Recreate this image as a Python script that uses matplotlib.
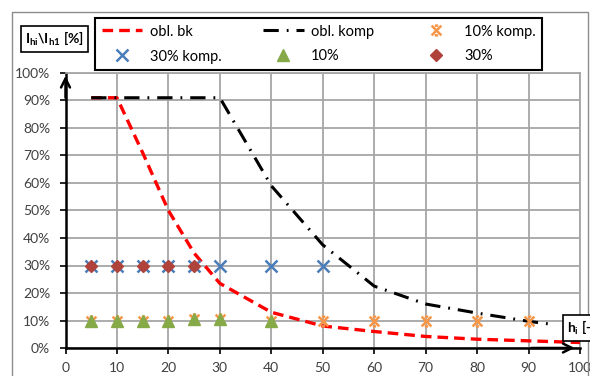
import matplotlib
matplotlib.use('Agg')
import matplotlib.pyplot as plt
from matplotlib.path import Path
from matplotlib.patches import Rectangle

plt.rcParams['font.family'] = ['Lato', 'DejaVu Sans']
plt.rcParams['mathtext.fontset'] = 'custom'
plt.rcParams['mathtext.rm'] = 'Lato'
plt.rcParams['mathtext.it'] = 'Lato'
plt.rcParams['mathtext.bf'] = 'Lato:bold'

# data
bk_x = [5, 10, 15, 20, 25, 30, 40, 50, 60, 70, 80, 90, 100]
bk_y = [91, 91, 71, 50, 34.5, 23.5, 13, 8, 6, 4.2, 3.2, 2.6, 2]
komp_x = [5, 10, 20, 30, 40, 50, 60, 70, 80, 90, 95]
komp_y = [91, 91, 91, 91, 59, 37.5, 22.5, 16, 12.7, 9.7, 8.5]
k10_x = [5, 10, 15, 20, 25, 30, 40, 50, 60, 70, 80, 90]
k10_y = [10, 10, 10, 10, 10.5, 10.5, 10, 10, 10, 10, 10, 10]
k30_x = [5, 10, 15, 20, 25, 30, 40, 50]
k30_y = [30, 30, 30, 30, 30, 30, 30, 30]
p10_x = [5, 10, 15, 20, 25, 30, 40]
p10_y = [10, 10, 10, 10, 10.5, 10.5, 10]
p30_x = [5, 10, 15, 20, 25]
p30_y = [30, 30, 30, 30, 30]

x_ticks = [0, 10, 20, 30, 40, 50, 60, 70, 80, 90, 100]
y_ticks = [0, 10, 20, 30, 40, 50, 60, 70, 80, 90, 100]

W, H = 590, 376
fig = plt.figure(figsize=(W / 100, H / 100), dpi=100)
# outer chart border
fig.patches.append(Rectangle((12 / W, -0.1), 576 / W, 1 - 12 / H + 0.1, transform=fig.transFigure,
                             fill=False, ec='#8c8c8c', lw=1))

ax = fig.add_axes([65.5 / W, 1 - 348 / H, (580 - 65.5) / W, (348 - 73) / H])

# marker for 10% komp.
star = Path([(-1, -1), (1, 1), (-1, 1), (1, -1), (-0.35, 1), (0.35, 1), (-0.35, -1), (0.35, -1)],
            [Path.MOVETO, Path.LINETO, Path.MOVETO, Path.LINETO,
             Path.MOVETO, Path.LINETO, Path.MOVETO, Path.LINETO])

l1, = ax.plot(bk_x, bk_y, color='#ff0000', lw=2.4, dashes=(3.2, 1.8), label='obl. bk', zorder=3)
l2, = ax.plot(komp_x, komp_y, color='black', lw=2.2, dashes=(5, 2.6, 0.6, 2.6), label='obl. komp', zorder=4)
l3, = ax.plot(k10_x, k10_y, ls='none', marker=star, ms=7, mew=1.8, color='#f79646', label='10% komp.', zorder=5)
l4, = ax.plot(k30_x, k30_y, ls='none', marker='x', ms=8, mew=1.8, color='#4a7ebb', label='30% komp.', zorder=6)
l5, = ax.plot(p10_x, p10_y, ls='none', marker='^', ms=9, color='#86aa48', label='10%', zorder=7)
l6, = ax.plot(p30_x, p30_y, ls='none', marker='D', ms=6.5, color='#b0423c', label='30%', zorder=8)

ax.set_xlim(0, 100)
ax.set_ylim(0, 100)
ax.set_xticks(x_ticks)
ax.set_yticks(y_ticks)
ax.set_xticklabels([str(v) for v in x_ticks])
ax.set_yticklabels([f'{v}%' for v in y_ticks])
ax.tick_params(direction='out', length=4, width=1.2, color='black', labelsize=10,
               labelcolor='#404040')
ax.tick_params(axis='x', pad=6)
ax.tick_params(axis='y', pad=7)
ax.grid(color='#a6a6a6', lw=1.3)
ax.set_axisbelow(True)
for s in ['top', 'right']:
    ax.spines[s].set_color('#a6a6a6')
    ax.spines[s].set_linewidth(1.3)
for s in ['left', 'bottom']:
    ax.spines[s].set_color('black')
    ax.spines[s].set_linewidth(1.8)

# axis arrows
ax.annotate('', xy=(0, 1.0), xytext=(0, 0.9), xycoords='axes fraction',
            arrowprops=dict(arrowstyle='->', lw=1.8, color='black', mutation_scale=16), annotation_clip=False)
ax.annotate('', xy=(0.995, 0), xytext=(0.9, 0), xycoords='axes fraction',
            arrowprops=dict(arrowstyle='->', lw=1.8, color='black', mutation_scale=16), annotation_clip=False)

# axis label boxes
fig.text(54.5 / W, 1 - 39 / H, r'$\mathbf{I_{hi}\backslash I_{h1}}$ $\mathbf{[\%]}$', ha='center', va='center',
         fontsize=10, fontweight='bold', color='black',
         bbox=dict(boxstyle='square,pad=0.3', fc='white', ec='black', lw=1.2))
fig.text(567 / W, 1 - 328 / H, r'h$_\mathregular{i}$ [-]', ha='left', va='center', fontsize=10,
         fontweight='bold', color='black', zorder=10,
         bbox=dict(boxstyle='square,pad=0.3', fc='white', ec='black', lw=1.2))

fig.legend([l1, l4, l2, l5, l3, l6], ['obl. bk', '30% komp.', 'obl. komp', '10%', '10% komp.', '30%'],
           ncol=3, loc='upper left', bbox_to_anchor=(95 / W, 1 - 18 / H), borderaxespad=0,
           fontsize=10.5, frameon=True, fancybox=False, edgecolor='black', framealpha=1,
           handlelength=2.8, handletextpad=0.5, columnspacing=2.85, labelspacing=0.75,
           borderpad=0.45, numpoints=1).get_frame().set_linewidth(1.5)

fig.savefig('out.png', dpi=100)
